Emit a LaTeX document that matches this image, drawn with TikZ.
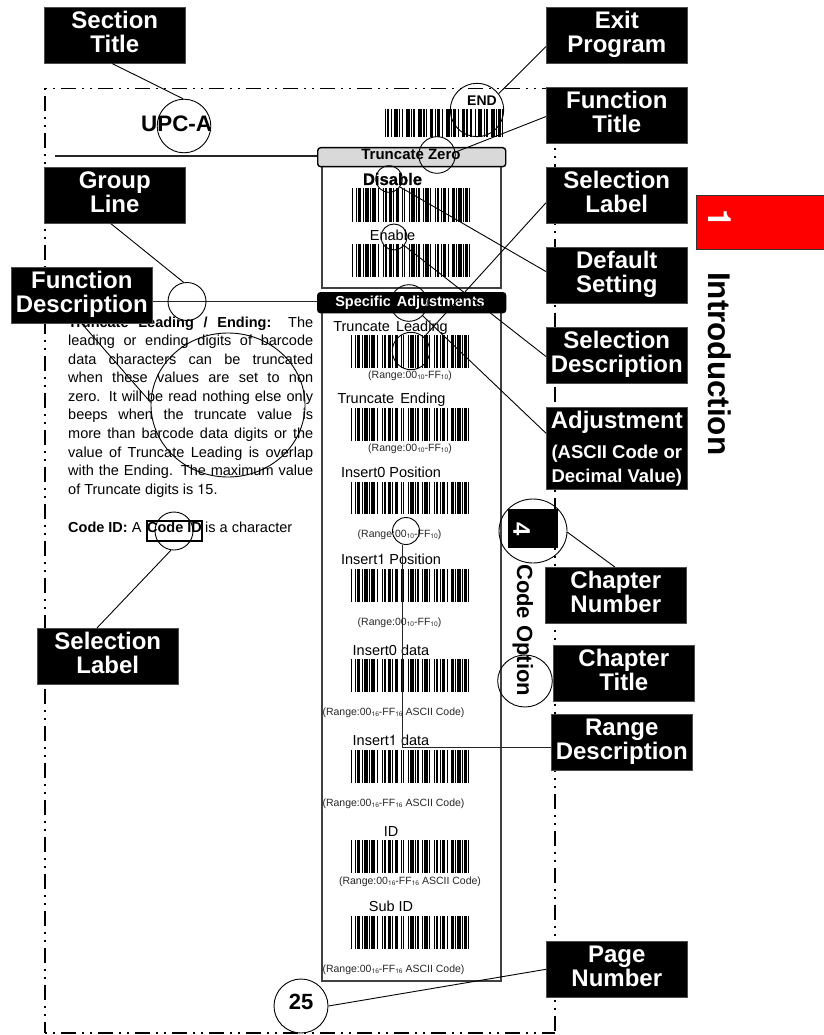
\documentclass[tikz,border=0pt]{standalone}
\usepackage{fontspec}
\setmainfont{Liberation Sans}
\newfontfamily\helv{TeX Gyre Heros}
\usetikzlibrary{shapes.geometric}
\newcommand\lblsub[1]{\raisebox{-1.6pt}{\fontsize{6.6}{6.6}\selectfont #1}}
\newcommand\rangeA{(Range:00\lblsub{{\helv 1}0}-FF\lblsub{{\helv 1}0})}
\newcommand\rangeB{(Range:00\lblsub{{\helv 1}6}-FF\lblsub{{\helv 1}6} ASCII Code)}
\newcommand\boxtext[1]{\parbox[c][56pt][t]{141pt}{\centering\rule{0pt}{21pt}#1}}
\newcommand\barsmain{0/1,3/1,5/3,9/1,11/3,15/1,17/3,22/1,26/1,28/2,31/3,35/1,37/3,42/1,44/1,48/1,50/3,54/1,56/2,60/1,62/3,66/1,70/1,72/2,75/1,77/3,81/1,85/2,88/1,90/3,94/1,96/2,99/1}
\newcommand\barsend{0/1,2/1,5/1,8/3,12/1,14/1,18/3,22/1,24/1,28/3,32/2,35/1,38/3,42/1,44/3,48/1,52/3,56/1,58/2,62/1,65/3,69/1,72/2,76/1,79/3,84/1,86/1,90/3,94/1,96/2,99/1}
\newcommand\barcode[4]{\foreach \a/\w in #4 {\fill[black] ({#1+\a*1.18},#2) rectangle ({#1+(\a+\w)*1.18},#3);}}
\tikzset{
  calloutbox/.style={fill=black,draw=black!70,line width=0.6pt,text=white,inner sep=0pt,
    minimum width=141pt,minimum height=56pt,anchor=north west,
    font=\fontsize{24}{24}\selectfont\bfseries},
  txt/.style={inner sep=0pt,anchor=base west,font=\fontsize{14.5}{18.55}\selectfont},
  txtc/.style={inner sep=0pt,anchor=base,font=\fontsize{14.5}{18.55}\selectfont},
  rangetxt/.style={inner sep=0pt,anchor=base,font=\fontsize{10.5}{12}\selectfont,text=black!85},
  ring/.style={circle,draw=black,line width=0.9pt,inner sep=0pt,minimum size=#1},
  oval/.style={ellipse,draw=black,line width=0.9pt,inner sep=0pt},
  link/.style={draw=black,line width=0.9pt},
  frameline/.style={draw=black,line width=1.3pt,dash pattern=on 15pt off 6pt on 2pt off 6pt on 2pt off 6pt},
  groupline/.style={draw=black!85,line width=1.5pt},
  pill/.style={rounded corners=3pt,draw=black,line width=1.4pt,inner sep=0pt,minimum width=188pt,minimum height=19pt,anchor=north west},
  panel/.style={draw=black!75,line width=1.6pt,fill=none}
}
\begin{document}
\begin{tikzpicture}[x=1pt,y=-1pt]
\useasboundingbox (0,0) rectangle (823,1035);
% page frame
\draw[frameline,dash phase=21pt] (45,88.5) -- (555,88.5);
\draw[frameline,dash phase=29pt] (45,88.5) -- (45,1033);
\draw[frameline,dash phase=35pt] (555,88.5) -- (555,1033);
\draw[frameline,dash phase=21pt] (45,1033) -- (555,1033);
% panels
\draw[panel] (322,166) rectangle (501,288);
\draw[panel] (322,312) rectangle (501,981);
% barcodes
\barcode{385}{109}{137}{\barsend}
\barcode{352}{188}{222}{\barsmain}
\barcode{352}{244}{277}{\barsmain}
\barcode{351}{335}{368}{\barsmain}
\barcode{351}{408}{441}{\barsmain}
\barcode{351}{482}{514}{\barsmain}
\barcode{351}{569}{602}{\barsmain}
\barcode{351}{659}{692}{\barsmain}
\barcode{351}{750}{783}{\barsmain}
\barcode{351}{840}{873}{\barsmain}
\barcode{351}{916}{949}{\barsmain}
% pills and group lines
\node[pill,fill=black!15] (pz) at (317,147) {};
\node[pill,fill=black,minimum height=20pt] (ps) at (317,292) {};
\coordinate (gla) at (55,156);
\coordinate (glb) at (152,301.5);
\draw[groupline] (gla) -- (gla -| pz.west);
\draw[groupline] (glb) -- (glb -| ps.west);
\node[txtc,font=\fontsize{15}{18}\selectfont\bfseries] (tzt) at (411,160) {Truncate Zero};
\node[txtc,text=white,font=\fontsize{14.5}{18}\selectfont\bfseries] (sat) at (410,306) {Specific\hspace{2pt} Adjustments};
% headings and labels
\node[txt,font=\fontsize{22.4}{24}\selectfont\bfseries] (upc) at (141,132) {UPC-A};
\node[txt,font=\fontsize{14}{16}\selectfont\bfseries] (endt) at (467,106) {END};
\node[txtc,font=\fontsize{16.6}{18}\selectfont\bfseries\addfontfeature{FakeBold=1}] (dis) at (392.5,185) {Disable};
\node[txtc] (ena) at (392.5,240) {Enable};
\node[txtc] (l1) at (390.5,331) {Truncate\hspace{2pt} Leading};
\node[txtc] (l2) at (391.5,403) {Truncate\hspace{2pt} Ending};
\node[txtc] (l3) at (391,477) {Insert0 Position};
\node[txtc] (l4) at (391,564) {Insert{\helv 1} Position};
\node[txtc] (l5) at (391,655) {Insert0 data};
\node[txtc] (l6) at (391,745) {Insert{\helv 1} data};
\node[txtc] (l7) at (391,836) {ID};
\node[txtc] (l8) at (391,911) {Sub ID};
\node[rangetxt] (r1) at (410,378) {\rangeA};
\node[rangetxt] (r2) at (410,451) {\rangeA};
\node[rangetxt] (r3) at (399.5,537) {\rangeA};
\node[rangetxt] (r4) at (399.5,625) {\rangeA};
\node[rangetxt] (r5) at (393.5,715) {\rangeB};
\node[rangetxt] (r6) at (393.5,806) {\rangeB};
\node[rangetxt] (r7) at (410,884) {\rangeB};
\node[rangetxt] (r8) at (393.5,972) {\rangeB};
% paragraph
\node[inner sep=0pt,anchor=north west,text width=245pt,align=justify,font=\fontsize{14.5}{18.55}\selectfont] (para) at (68,314)
 {\rule{0pt}{13pt}\textbf{Truncate Leading / Ending:} The\linebreak
  leading or ending digits of barcode\linebreak
  data characters can be truncated\linebreak
  when these values are set to non\linebreak
  zero. It will be read nothing else only\linebreak
  beeps when the truncate value is\linebreak
  more than barcode data digits or the\linebreak
  value of Truncate Leading is overlap\linebreak
  with the Ending. The maximum value\linebreak
  of Truncate digits is {\helv 1}5.};
\node[txt] (cid1) at (68,532) {\textbf{Code ID:} A};
\node[txtc,font=\fontsize{14.5}{18}\selectfont\bfseries] (cid2) at (174.5,532) {Code ID};
\node[draw=black,line width=2pt,inner sep=0pt,minimum width=55pt,minimum height=20pt] (cidb) at (174.5,531) {};
\node[txt] (cid3) at (205,532) {is a character};
% chapter tab
\node[fill=red,draw=black!80,line width=1pt,minimum width=128pt,minimum height=54pt,inner sep=0pt,anchor=north west] (redtab) at (696,195) {};
\node[inner sep=0pt,rotate=-90,text=white,font=\helv\fontsize{32}{32}\selectfont\bfseries] (one) at (719.5,218) {1};
\node[inner sep=0pt,rotate=-90,anchor=base west,font=\fontsize{31.4}{32}\selectfont\bfseries] (intro) at (708,272) {Introduction};
\node[fill=black,minimum width=50pt,minimum height=39pt,inner sep=0pt,anchor=north west] (ch4) at (508,509) {};
\node[inner sep=0pt,rotate=-90,text=white,font=\fontsize{24}{24}\selectfont\bfseries] (four) at (521.5,529) {4};
\node[inner sep=0pt,rotate=-90,anchor=base west,font=\fontsize{22}{24}\selectfont\bfseries] (copt) at (517,564) {Code Option};
\node[txtc,font=\fontsize{22}{24}\selectfont\bfseries] (pg) at (301,1009) {25};
% callout boxes
\node[calloutbox] (section) at (44,7) {\boxtext{Section\\Title}};
\node[calloutbox] (group) at (44,167) {\boxtext{Group\\Line}};
\node[calloutbox] (funcdesc) at (11,267) {\boxtext{Function\\Description}};
\node[calloutbox] (sellabL) at (37,628) {\boxtext{Selection\\Label}};
\node[calloutbox] (exit) at (546,7) {\boxtext{Exit\\Program}};
\node[calloutbox] (ftitle) at (546,87) {\boxtext{Function\\Title}};
\node[calloutbox] (sellabR) at (546,167) {\boxtext{Selection\\Label}};
\node[calloutbox] (default) at (546,247) {\boxtext{Default\\Setting}};
\node[calloutbox] (seldesc) at (546,327) {\boxtext{Selection\\Description}};
\node[calloutbox,minimum height=82pt] (adjust) at (546,407)
 {\parbox[c][82pt][t]{141pt}{\centering\rule{0pt}{21pt}Adjustment\\[5pt]
  {\fontsize{18.5}{25}\selectfont (ASCII Code or\\ Decimal Value)}}};
\node[calloutbox] (chnum) at (545,567) {\boxtext{Chapter\\Number}};
\node[calloutbox] (chtitle) at (553,645) {\boxtext{Chapter\\Title}};
\node[calloutbox] (range) at (551,714) {\boxtext{Range\\Description}};
\node[calloutbox] (pagenum) at (546,941) {\boxtext{Page\\Number}};
% rings
\node[ring=53.6pt] (csection) at (184,126) {};
\node[ring=53.4pt] (cend) at (477,110) {};
\node[ring=36.6pt] (cfunc) at (437,155) {};
\node[ring=26.6pt] (cdis) at (389,179) {};
\node[ring=26pt] (cena) at (394,237) {};
\node[ring=36.6pt] (cadj) at (409,303) {};
\node[ring=37.4pt] (csel) at (411,351) {};
\node[ring=27pt] (crange) at (406,531) {};
\node[ring=38pt] (cgroup) at (187,301.5) {};
\node[ring=38pt] (ccode) at (174,531) {};
\node[ring=54pt] (cpage) at (301,1006) {};
\node[oval,minimum width=154pt,minimum height=144pt] (cdesc) at (228,405) {};
\node[oval,minimum width=68pt,minimum height=64pt] (cnum) at (533,531) {};
\node[oval,minimum width=54.6pt,minimum height=52pt] (ctitle) at (525,681) {};
% connectors
\draw[link] (section.265) -- (csection.92);
\draw[link] (group.262) -- (cgroup.100);
\draw[link] (funcdesc.270) -- (cdesc.178);
\draw[link] (sellabL.111) -- (ccode.-99);
\draw[link] (exit.189.7) -- (cend.37.7);
\draw[link] (ftitle.181) -- (cfunc.9);
\draw[link] (sellabR.186.5) -- (csel.47.6);
\draw[link] (default.177.6) -- (cdis.-36);
\draw[link] (seldesc.181.6) -- (cena.-40);
\draw[link] (adjust.168) -- (cadj.-43);
\draw[link] (chnum.92) -- (cnum.-2);
\draw[link] (pagenum.180) -- (cpage.0);
\draw[link,draw=black!85] (range.184) -| (crange.-103);
\end{tikzpicture}
\end{document}
